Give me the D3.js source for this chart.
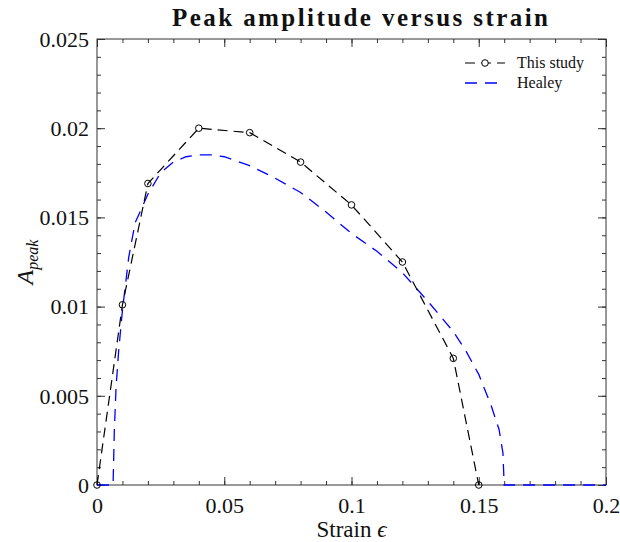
<!DOCTYPE html>
<html>
<head>
<meta charset="utf-8">
<title>Peak amplitude versus strain</title>
<script src="https://d3js.org/d3.v7.min.js"></script>
<style>
  body { margin: 0; background: #fff; }
  text { font-family: "Liberation Serif", "DejaVu Serif", serif; fill: #111; }
</style>
</head>
<body>
<script>
// This study (circles)
const studyStrain = [0, 0.01, 0.02, 0.04, 0.06, 0.08, 0.10, 0.12, 0.14, 0.15];
const studyAmp    = [0, 0.0101, 0.0169, 0.0200, 0.01975, 0.0181, 0.0157, 0.0125, 0.0071, 0];

// Healey curve
const healeyStrain = [0, 0.0063, 0.0064, 0.0068, 0.0075, 0.0085, 0.010, 0.0125, 0.015, 0.020, 0.025,
  0.030, 0.035, 0.040, 0.045, 0.050, 0.060, 0.070, 0.080, 0.090, 0.100, 0.110, 0.120, 0.130,
  0.140, 0.145, 0.150, 0.155, 0.158, 0.1595, 0.160, 0.200];
const healeyAmp = [0, 0, 0.0005, 0.003, 0.0055, 0.0075, 0.0098, 0.0128, 0.0147, 0.0163, 0.0175,
  0.0181, 0.0184, 0.0185, 0.0185, 0.0184, 0.0179, 0.0172, 0.0164, 0.0153, 0.0141, 0.0131, 0.0119, 0.0103,
  0.0086, 0.0075, 0.0062, 0.0044, 0.0031, 0.0018, 0, 0];

const xTicks = [0, 0.05, 0.1, 0.15, 0.2];
const yTicks = [0, 0.005, 0.01, 0.015, 0.02, 0.025];

const W = 620, H = 542;
const m = {left: 97, right: 14, top: 39, bottom: 57};

const svg = d3.select("body").append("svg")
  .attr("width", W).attr("height", H);

const x = d3.scaleLinear().domain([0, 0.2]).range([m.left, W - m.right]);
const y = d3.scaleLinear().domain([0, 0.025]).range([H - m.bottom, m.top]);

const axisColor = "#333";

// minor + major ticks, inward on all four sides
const xMinor = d3.range(0, 0.2001, 0.01);
const yMinor = d3.range(0, 0.02501, 0.001);

function addAxis(axisFn, scale, ticks, len, tr, labels) {
  const g = svg.append("g").attr("transform", tr)
    .call(axisFn(scale).tickValues(ticks).tickSize(-len)
      .tickFormat(labels ? (d => d3.format("")(+d.toFixed(4))) : ""));
  g.select(".domain").remove();
  g.attr("font-family", null);
  g.selectAll(".tick line").attr("stroke", axisColor).attr("stroke-width", 1);
  return g;
}

const bottomY = y(0), topY = y(0.025), leftX = x(0), rightX = x(0.2);

addAxis(d3.axisBottom, x, xMinor, 4, `translate(0,${bottomY})`, false);
addAxis(d3.axisTop, x, xMinor, 4, `translate(0,${topY})`, false);
addAxis(d3.axisLeft, y, yMinor, 4, `translate(${leftX},0)`, false);
addAxis(d3.axisRight, y, yMinor, 4, `translate(${rightX},0)`, false);

const xb = addAxis(d3.axisBottom, x, xTicks, 8, `translate(0,${bottomY})`, true);
addAxis(d3.axisTop, x, xTicks, 8, `translate(0,${topY})`, false);
const yl = addAxis(d3.axisLeft, y, yTicks, 8, `translate(${leftX},0)`, true);
addAxis(d3.axisRight, y, yTicks, 8, `translate(${rightX},0)`, false);

xb.selectAll(".tick text").attr("font-size", 22).attr("dy", 0).attr("y", 28);
yl.selectAll(".tick text").attr("font-size", 22).attr("x", -8).attr("dy", "0.33em");
svg.selectAll(".tick text").attr("fill", "#111");

// box
svg.append("rect")
  .attr("x", leftX).attr("y", topY)
  .attr("width", rightX - leftX).attr("height", bottomY - topY)
  .attr("fill", "none").attr("stroke", axisColor).attr("stroke-width", 1);

const line = d3.line().x(d => x(d[0])).y(d => y(d[1]));

const healey = healeyStrain.map((s, i) => [s, healeyAmp[i]]);
const study = studyStrain.map((s, i) => [s, studyAmp[i]]);

svg.append("path").datum(healey)
  .attr("d", line).attr("fill", "none")
  .attr("stroke", "#0000ff").attr("stroke-width", 1.3)
  .attr("stroke-dasharray", "12,8");

svg.append("path").datum(study)
  .attr("d", line).attr("fill", "none")
  .attr("stroke", "#000").attr("stroke-width", 1.2)
  .attr("stroke-dasharray", "10,6");

svg.selectAll("circle.pt").data(study).enter().append("circle")
  .attr("class", "pt")
  .attr("cx", d => x(d[0])).attr("cy", d => y(d[1]))
  .attr("r", 3.3).attr("fill", "none").attr("stroke", "#000").attr("stroke-width", 1);

// legend
const lg = svg.append("g");
lg.append("line").attr("x1", 465).attr("x2", 505).attr("y1", 63).attr("y2", 63)
  .attr("stroke", "#000").attr("stroke-width", 1.2).attr("stroke-dasharray", "10,6");
lg.append("circle").attr("cx", 485).attr("cy", 63).attr("r", 3.3)
  .attr("fill", "#fff").attr("stroke", "#000");
lg.append("text").attr("x", 517).attr("y", 68).attr("font-size", 16).text("This study");
lg.append("line").attr("x1", 465).attr("x2", 505).attr("y1", 83).attr("y2", 83)
  .attr("stroke", "#0000ff").attr("stroke-width", 1.3).attr("stroke-dasharray", "12,8");
lg.append("text").attr("x", 517).attr("y", 88).attr("font-size", 16).text("Healey");

// title
svg.append("text").attr("x", 360).attr("y", 26)
  .attr("text-anchor", "middle").attr("font-size", 25).attr("font-weight", "bold")
  .attr("textLength", 376).attr("lengthAdjust", "spacing")
  .text("Peak amplitude versus strain");

// x label
const xl = svg.append("text").attr("x", (leftX + rightX) / 2).attr("y", 537)
  .attr("text-anchor", "middle").attr("font-size", 23);
xl.append("tspan").text("Strain ");
xl.append("tspan").attr("font-style", "italic").text("\u03f5");

// y label
const ylab = svg.append("text")
  .attr("transform", `translate(33,${(topY + bottomY) / 2}) rotate(-90)`)
  .attr("text-anchor", "middle").attr("font-size", 24).attr("font-style", "italic");
ylab.append("tspan").text("A");
ylab.append("tspan").attr("font-size", 16).attr("dy", 5).text("peak");
</script>
</body>
</html>
